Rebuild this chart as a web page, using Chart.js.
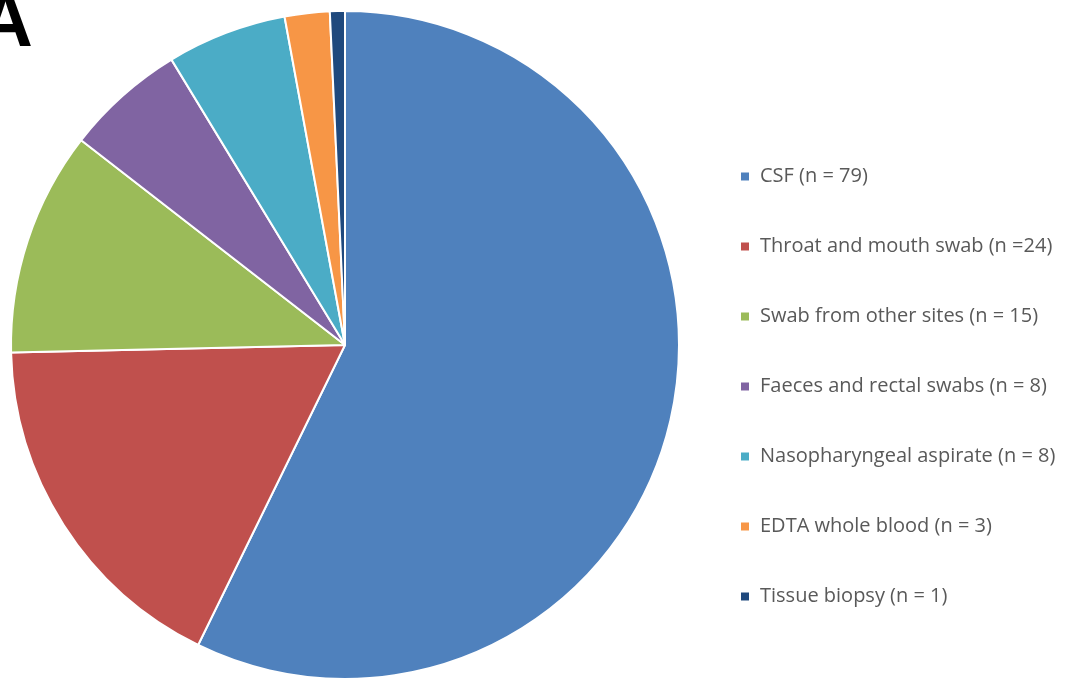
<!DOCTYPE html>
<html>
<head>
<meta charset="utf-8">
<script src="https://cdn.jsdelivr.net/npm/chart.js@4"></script>
<style>
  html, body { margin: 0; padding: 0; background: #fff; }
  #wrap { width: 1076px; height: 680px; position: relative; }
</style>
</head>
<body>
<div id="wrap"><canvas id="myChart"></canvas></div>
<script>
var labels = ["CSF (n = 79)", "Throat and mouth swab (n =24)", "Swab from other sites (n = 15)",
  "Faeces and rectal swabs (n = 8)", "Nasopharyngeal aspirate (n = 8)", "EDTA whole blood (n = 3)",
  "Tissue biopsy (n = 1)"];
var counts = [79, 24, 15, 8, 8, 3, 1];
var colors = ["#4f81bd", "#c0504d", "#9bbb59", "#8064a2", "#4bacc6", "#f79646", "#1f497d"];

// big panel letter in the top left corner
var panelLetter = {
  id: 'panelLetter',
  afterDraw: function(chart) {
    var c = chart.ctx;
    c.save();
    c.fillStyle = '#000';
    c.font = 'bold 76px "Liberation Sans", Arial, sans-serif';
    c.textBaseline = 'alphabetic';
    c.fillText('A', -22, 46);
    c.restore();
  }
};

// give the legend a fixed width so the pie sits where it should
var legendWidth = {
  id: 'legendWidth',
  beforeLayout: function(chart) {
    var lg = chart.legend;
    if (!lg || lg._patched) return;
    var fit = lg.fit;
    lg.fit = function() {
      fit.call(this);
      this.width = 386;
    };
    lg._patched = true;
  }
};

var ctx = document.getElementById("myChart").getContext("2d");
var myChart = new Chart(ctx, {
  type: 'pie',
  data: {
    labels: labels,
    datasets: [{
      data: counts,
      backgroundColor: colors,
      borderColor: '#ffffff',
      borderWidth: 2
    }]
  },
  options: {
    responsive: true,
    maintainAspectRatio: false,
    animation: false,
    layout: { padding: { top: 10, bottom: 0, left: 0, right: 0 } },
    plugins: {
      tooltip: { enabled: false },
      legend: {
        position: 'right',
        align: 'start',
        title: { display: true, text: '', padding: { top: 0, bottom: 92 } },
        labels: {
          boxWidth: 10,
          boxHeight: 10,
          padding: 50,
          color: '#595959',
          font: { family: 'Open Sans', size: 20 }
        }
      }
    }
  },
  plugins: [panelLetter, legendWidth]
});
</script>
</body>
</html>
